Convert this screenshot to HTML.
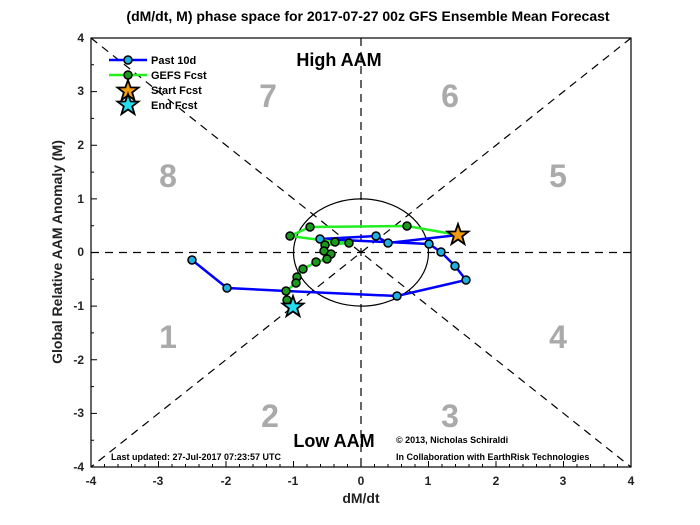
<!DOCTYPE html>
<html><head><style>body{margin:0;background:#fff}svg{display:block}</style></head><body>
<svg width="700" height="525" xmlns="http://www.w3.org/2000/svg" font-family="Liberation Sans, sans-serif" font-weight="bold">
<rect width="700" height="525" fill="#fff"/>
<g stroke="#000" stroke-width="1.2" stroke-dasharray="8,6" fill="none">
<line x1="91" y1="38" x2="631" y2="467"/>
<line x1="631" y1="38" x2="91" y2="467"/>
<line x1="91" y1="252.5" x2="631" y2="252.5"/>
<line x1="361" y1="38" x2="361" y2="467"/>
</g>
<ellipse cx="361" cy="252.5" rx="67.5" ry="53.6" fill="none" stroke="#000" stroke-width="1.2"/>
<rect x="91" y="38" width="540" height="429" fill="none" stroke="#000" stroke-width="1.2"/>
<g fill="#aaa" font-size="32" text-anchor="middle">
<text x="268" y="107">7</text><text x="450" y="107">6</text>
<text x="168" y="187">8</text><text x="558" y="187">5</text>
<text x="168" y="348">1</text><text x="558" y="348">4</text>
<text x="270" y="427">2</text><text x="450" y="427">3</text>
</g>
<polyline fill="none" stroke="#0000ff" stroke-width="2.5" points="192,260 227,288 286,291 397,296 466,280 455,266 441,252 429,244 320,239 376,236 388,243 458,235"/>
<polyline fill="none" stroke="#22ee22" stroke-width="2.5" points="458,235 407,226 310,227 290,236 335,242 349,243 325,245 324,251 331,254 327,259 316,262 303,269 297,277 296,283 286,291 287,300 293,307"/>
<g fill="#20b0e0" stroke="#000" stroke-width="1.5">
<circle cx="192" cy="260" r="4"/><circle cx="227" cy="288" r="4"/><circle cx="397" cy="296" r="4"/><circle cx="466" cy="280" r="4"/><circle cx="455" cy="266" r="4"/><circle cx="441" cy="252" r="4"/><circle cx="429" cy="244" r="4"/><circle cx="376" cy="236" r="4"/><circle cx="388" cy="243" r="4"/><circle cx="320" cy="239" r="4"/>
</g>
<g fill="#1a9a1a" stroke="#000" stroke-width="1.5">
<circle cx="407" cy="226" r="4"/><circle cx="310" cy="227" r="4"/><circle cx="290" cy="236" r="4"/><circle cx="335" cy="242" r="4"/><circle cx="349" cy="243" r="4"/><circle cx="325" cy="245" r="4"/><circle cx="324" cy="251" r="4"/><circle cx="331" cy="254" r="4"/><circle cx="327" cy="259" r="4"/><circle cx="316" cy="262" r="4"/><circle cx="303" cy="269" r="4"/><circle cx="297" cy="277" r="4"/><circle cx="296" cy="283" r="4"/><circle cx="286" cy="291" r="4"/><circle cx="287" cy="300" r="4"/>
</g>
<defs><polygon id="st" points="0,-11 2.6,-3.6 10.5,-3.4 4.2,1.4 6.5,9 0,4.5 -6.5,9 -4.2,1.4 -10.5,-3.4 -2.6,-3.6" stroke="#000" stroke-width="1.8"/></defs>
<use href="#st" x="458" y="235" fill="#f39c12"/>
<use href="#st" x="293" y="307" fill="#22e0f0"/>
<line x1="109" y1="60" x2="147" y2="60" stroke="#0000ff" stroke-width="2.5"/><circle cx="128" cy="60" r="4" fill="#20b0e0" stroke="#000" stroke-width="1.5"/>
<line x1="109" y1="75" x2="147" y2="75" stroke="#22ee22" stroke-width="2.5"/><circle cx="128" cy="75" r="4" fill="#1a9a1a" stroke="#000" stroke-width="1.5"/>
<use href="#st" x="128" y="91" fill="#f39c12"/>
<use href="#st" x="128" y="105" fill="#22e0f0"/>
<g font-size="11" fill="#000">
<text x="151" y="64">Past 10d</text><text x="151" y="79">GEFS Fcst</text>
<text x="151" y="94">Start Fcst</text><text x="151" y="109">End Fcst</text>
</g>
<text x="368" y="21" font-size="14" text-anchor="middle">(dM/dt, M) phase space for 2017-07-27 00z GFS Ensemble Mean Forecast</text>
<text x="339" y="66" font-size="18" text-anchor="middle">High AAM</text>
<text x="334" y="447" font-size="18" text-anchor="middle">Low AAM</text>
<text x="396" y="443" font-size="9">©  2013, Nicholas Schiraldi</text>
<text x="396" y="460" font-size="9">In Collaboration with EarthRisk Technologies</text>
<text x="111" y="460" font-size="9">Last updated: 27-Jul-2017 07:23:57 UTC</text>
<g font-size="12" text-anchor="middle" fill="#222">
<text x="91" y="485">-4</text><text x="158" y="485">-3</text><text x="226" y="485">-2</text><text x="293" y="485">-1</text><text x="361" y="485">0</text><text x="428" y="485">1</text><text x="496" y="485">2</text><text x="563" y="485">3</text><text x="631" y="485">4</text>
</g>
<g font-size="12" text-anchor="end" fill="#222">
<text x="84" y="42">4</text><text x="84" y="95">3</text><text x="84" y="149">2</text><text x="84" y="203">1</text><text x="84" y="256">0</text><text x="84" y="310">-1</text><text x="84" y="364">-2</text><text x="84" y="417">-3</text><text x="84" y="471">-4</text>
</g>
<text x="361" y="503" font-size="14" text-anchor="middle" fill="#222">dM/dt</text>
<text transform="translate(62,252) rotate(-90)" font-size="14" text-anchor="middle" fill="#222">Global Relative AAM Anomaly (M)</text>
<g stroke="#000" stroke-width="1">
<path d="M91,467v-6M104.5,467v-3M118,467v-3M131.5,467v-3M145,467v-3M158.5,467v-6M172,467v-3M185.5,467v-3M199,467v-3M212.5,467v-3M226,467v-6M239.5,467v-3M253,467v-3M266.5,467v-3M280,467v-3M293.5,467v-6M307,467v-3M320.5,467v-3M334,467v-3M347.5,467v-3M361,467v-6M374.5,467v-3M388,467v-3M401.5,467v-3M415,467v-3M428.5,467v-6M442,467v-3M455.5,467v-3M469,467v-3M482.5,467v-3M496,467v-6M509.5,467v-3M523,467v-3M536.5,467v-3M550,467v-3M563.5,467v-6M577,467v-3M590.5,467v-3M604,467v-3M617.5,467v-3"/>
<path d="M91,38h6M91,91.6h6M91,145.3h6M91,198.9h6M91,252.5h6M91,306.1h6M91,359.8h6M91,413.4h6M91,64.8h3M91,118.4h3M91,172.1h3M91,225.7h3M91,279.3h3M91,332.9h3M91,386.6h3M91,440.2h3"/>
</g>
</svg>
</body></html>
